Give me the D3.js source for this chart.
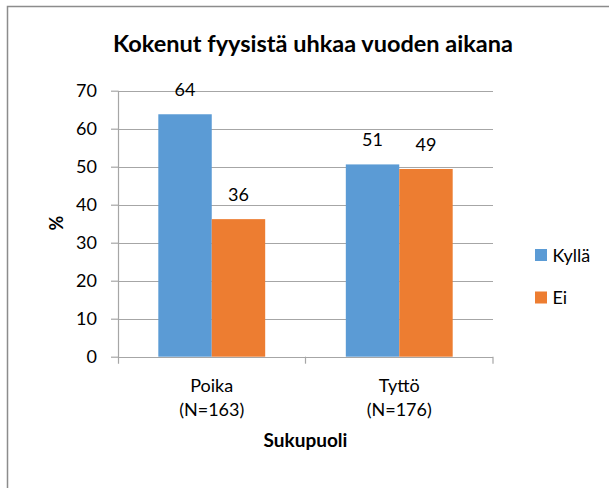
<!DOCTYPE html>
<html>
<meta charset="utf-8" />
<head>
    <script src="https://d3js.org/d3.v7.min.js"></script>
    <style>
        body { margin: 0; background: #fff; }
        svg text { font-family: Lato, "Open Sans", sans-serif; fill: #000; }
    </style>
</head>
<body>
<div id="chart"></div>
<script type="text/javascript">
    // chart data
    var categories = ["Poika", "Tyttö"];
    var categoryN = ["(N=163)", "(N=176)"];
    var seriesNames = ["Kyllä", "Ei"];
    var kylla = [63.8, 50.6];
    var ei = [36.2, 49.4];
    var valueLabels = [[64, 36], [51, 49]];
    var yTicks = [0, 10, 20, 30, 40, 50, 60, 70];
    var colors = ["#5b9bd5", "#ed7d31"];

    const width = 609, height = 488;
    const plot = { left: 118, right: 493, top: 90.7, bottom: 356.7 };

    var svg = d3.select("#chart").append("svg")
        .attr("width", width)
        .attr("height", height);

    // outer frame
    svg.append("rect")
        .attr("x", 7.5).attr("y", 6.5)
        .attr("width", 620).attr("height", 500)
        .style("fill", "none")
        .style("stroke", "#8c8c8c")
        .style("stroke-width", 1.5);

    var y = d3.scaleLinear().domain([0, 70]).range([plot.bottom, plot.top]);
    var x0 = d3.scaleBand().domain(categories).range([plot.left, plot.right])
        .paddingInner(0.43).paddingOuter(0.215);
    var x1 = d3.scaleBand().domain(seriesNames).range([0, x0.bandwidth()]);

    // gridlines
    svg.append("g").selectAll("line")
        .data(yTicks.filter(function(d) { return d > 0; }))
        .enter().append("line")
        .attr("x1", plot.left).attr("x2", plot.right)
        .attr("y1", function(d) { return Math.round(y(d)) + 0.5; })
        .attr("y2", function(d) { return Math.round(y(d)) + 0.5; })
        .style("stroke", "#a6a6a6")
        .style("stroke-width", 1.2);

    // bars
    var rows = categories.map(function(c, i) {
        return { cat: c, vals: [kylla[i], ei[i]], labels: valueLabels[i] };
    });
    var groups = svg.selectAll("g.cat")
        .data(rows).enter().append("g")
        .attr("class", "cat")
        .attr("transform", function(d) { return "translate(" + x0(d.cat) + ",0)"; });

    groups.selectAll("rect")
        .data(function(d) { return d.vals.map(function(v, j) { return { s: seriesNames[j], v: v, j: j, lab: d.labels[j] }; }); })
        .enter().append("rect")
        .attr("x", function(d) { return x1(d.s); })
        .attr("y", function(d) { return y(d.v); })
        .attr("width", x1.bandwidth())
        .attr("height", function(d) { return y(0) - y(d.v); })
        .style("fill", function(d) { return colors[d.j]; });

    groups.selectAll("text.val")
        .data(function(d) { return d.vals.map(function(v, j) { return { s: seriesNames[j], v: v, lab: d.labels[j] }; }); })
        .enter().append("text")
        .attr("class", "val")
        .attr("x", function(d) { return x1(d.s) + x1.bandwidth() / 2; })
        .attr("y", function(d) { return y(d.v) - 18; })
        .attr("text-anchor", "middle")
        .style("font-size", "18px")
        .text(function(d) { return d.lab; });

    // y axis
    var yAxis = d3.axisLeft(y).tickValues(yTicks).tickSize(7).tickPadding(14);
    var gy = svg.append("g").attr("transform", "translate(" + plot.left + ",0)").call(yAxis);
    gy.select(".domain").attr("d", "M0.5," + plot.top + "V" + (plot.bottom + 7)).style("stroke", "#a6a6a6").style("stroke-width", 1.2);
    gy.selectAll(".tick line").style("stroke", "#a6a6a6").style("stroke-width", 1.2);
    gy.selectAll(".tick text").style("font-size", "18px").style("font-family", "Lato, sans-serif").attr("fill", "#000");

    // x axis baseline and separators
    svg.append("line")
        .attr("x1", plot.left).attr("x2", plot.right)
        .attr("y1", Math.round(y(0)) + 0.5).attr("y2", Math.round(y(0)) + 0.5)
        .style("stroke", "#a6a6a6").style("stroke-width", 1.2);
    var seps = [plot.left + (plot.right - plot.left) / 2, plot.right];
    svg.selectAll("line.sep").data(seps).enter().append("line")
        .attr("x1", function(d) { return d; }).attr("x2", function(d) { return d; })
        .attr("y1", y(0)).attr("y2", y(0) + 7)
        .style("stroke", "#a6a6a6").style("stroke-width", 1.2);

    // category labels
    var xl = svg.selectAll("text.cat").data(categories).enter().append("text")
        .attr("text-anchor", "middle")
        .style("font-size", "18px");
    xl.append("tspan")
        .attr("x", function(d) { return x0(d) + x0.bandwidth() / 2; })
        .attr("y", 392)
        .text(function(d) { return d; });
    xl.append("tspan")
        .attr("x", function(d) { return x0(d) + x0.bandwidth() / 2; })
        .attr("y", 416)
        .text(function(d, i) { return categoryN[i]; });

    // axis titles
    svg.append("text")
        .attr("x", (plot.left + plot.right) / 2).attr("y", 447)
        .attr("text-anchor", "middle")
        .style("font-size", "19px").style("font-weight", "bold")
        .text("Sukupuoli");
    svg.append("text")
        .attr("transform", "translate(63,223) rotate(-90)")
        .attr("text-anchor", "middle")
        .style("font-size", "18px").style("font-weight", "bold")
        .text("%");

    // title
    svg.append("text")
        .attr("x", 313).attr("y", 52)
        .attr("text-anchor", "middle")
        .style("font-size", "23.5px").style("font-weight", "bold")
        .text("Kokenut fyysistä uhkaa vuoden aikana");

    // legend
    var leg = svg.selectAll("g.leg").data(seriesNames).enter().append("g")
        .attr("transform", function(d, i) { return "translate(535," + (249 + i * 42.5) + ")"; });
    leg.append("rect").attr("width", 12).attr("height", 12)
        .style("fill", function(d, i) { return colors[i]; });
    leg.append("text").attr("x", 17.5).attr("y", 12.5)
        .style("font-size", "18px")
        .text(function(d) { return d; });
</script>
</body>
</html>
